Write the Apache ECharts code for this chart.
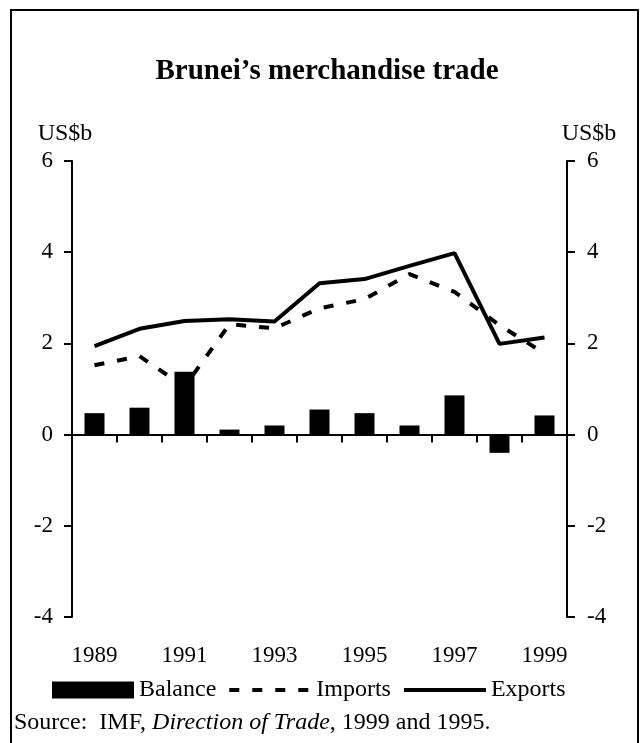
<!DOCTYPE html>
<html>

<head>
  <meta charset="utf-8">
  <title>Brunei merchandise trade</title>
  <script src="https://cdnjs.cloudflare.com/ajax/libs/echarts/6.0.0/echarts.min.js"></script>
</head>

<body style="margin:0;background:#fff;">
  <div id="main" style="width: 642px;height:743px;"></div>
  <script type="text/javascript">
    // data (US$b)
    var years = ['1989', '1990', '1991', '1992', '1993', '1994', '1995', '1996', '1997', '1998', '1999'];
    var balance = [0.47, 0.59, 1.38, 0.11, 0.2, 0.55, 0.47, 0.2, 0.86, -0.4, 0.42];
    var imports = [1.52, 1.72, 1.05, 2.42, 2.33, 2.77, 2.97, 3.52, 3.13, 2.4, 1.78];
    var exports = [1.94, 2.32, 2.49, 2.53, 2.48, 3.32, 3.41, 3.7, 3.98, 1.99, 2.13];

    var serif = "'Liberation Serif', 'Times New Roman', serif";
    var myChart = echarts.init(document.getElementById('main'));

    var yAxisBase = {
      type: 'value',
      min: -4,
      max: 6,
      interval: 2,
      splitLine: { show: false },
      axisLine: { show: true, lineStyle: { color: '#000', width: 2 } },
      axisTick: { show: true, length: 8, lineStyle: { color: '#000', width: 2 } },
      axisLabel: { color: '#000', fontSize: 23, fontFamily: serif, margin: 19 }
    };

    var option = {
      animation: false,
      backgroundColor: '#fff',
      grid: { left: 72, right: 75, top: 161, bottom: 126 },
      legend: {
        // hide the little circle echarts puts on line icons
        data: [
          { name: 'Balance', icon: 'rect' },
          { name: 'Imports', itemStyle: { opacity: 0 } },
          { name: 'Exports', itemStyle: { opacity: 0 } }
        ],
        left: 52,
        top: 678,
        padding: 0,
        itemWidth: 82,
        itemHeight: 17,
        itemGap: 11,
        lineStyle: { width: 4 },
        textStyle: { color: '#000', fontSize: 24, fontFamily: serif }
      },
      xAxis: [{
        type: 'category',
        data: years,
        axisLine: { onZero: true, lineStyle: { color: '#000', width: 2 } },
        axisTick: { show: true, interval: 0, length: 8, lineStyle: { color: '#000', width: 2 } },
        axisLabel: { show: false }
      }, {
        type: 'category',
        data: years,
        position: 'bottom',
        axisLine: { show: false, onZero: false },
        axisTick: { show: false },
        axisLabel: { interval: 1, color: '#000', fontSize: 23, fontFamily: serif, margin: 27 }
      }],
      yAxis: [
        Object.assign({}, yAxisBase, { position: 'left' }),
        Object.assign({}, yAxisBase, { position: 'right', axisLabel: Object.assign({}, yAxisBase.axisLabel, { margin: 20 }) })
      ],
      series: [{
        name: 'Balance',
        type: 'bar',
        barWidth: 20,
        itemStyle: { color: '#000' },
        data: balance
      }, {
        name: 'Imports',
        type: 'line',
        symbol: 'none',
        lineStyle: { color: '#000', width: 4, type: [10, 13] },
        itemStyle: { color: '#000' },
        data: imports
      }, {
        name: 'Exports',
        type: 'line',
        symbol: 'none',
        lineStyle: { color: '#000', width: 4 },
        itemStyle: { color: '#000' },
        data: exports
      }],
      graphic: [{
        type: 'rect',
        z: -1,
        shape: { x: 11, y: 10, width: 627, height: 760 },
        style: { fill: 'none', stroke: '#000', lineWidth: 2 }
      }, {
        type: 'text',
        x: 327, y: 72,
        style: {
          text: 'Brunei\u2019s merchandise trade',
          fill: '#000', font: 'bold 29px ' + serif,
          textAlign: 'center', textVerticalAlign: 'middle'
        }
      }, {
        type: 'text',
        x: 65, y: 134,
        style: { text: 'US$b', fill: '#000', font: '24px ' + serif, textAlign: 'center', textVerticalAlign: 'middle' }
      }, {
        type: 'text',
        x: 589, y: 134,
        style: { text: 'US$b', fill: '#000', font: '24px ' + serif, textAlign: 'center', textVerticalAlign: 'middle' }
      }, {
        type: 'text',
        x: 14, y: 723,
        style: {
          text: '{a|Source:  IMF, }{b|Direction of Trade}{a|, 1999 and 1995.}',
          textVerticalAlign: 'middle',
          rich: {
            a: { fill: '#000', fontSize: 24, fontFamily: serif },
            b: { fill: '#000', fontSize: 24, fontFamily: serif, fontStyle: 'italic' }
          }
        }
      }]
    };

    myChart.setOption(option);
  </script>
</body>

</html>
